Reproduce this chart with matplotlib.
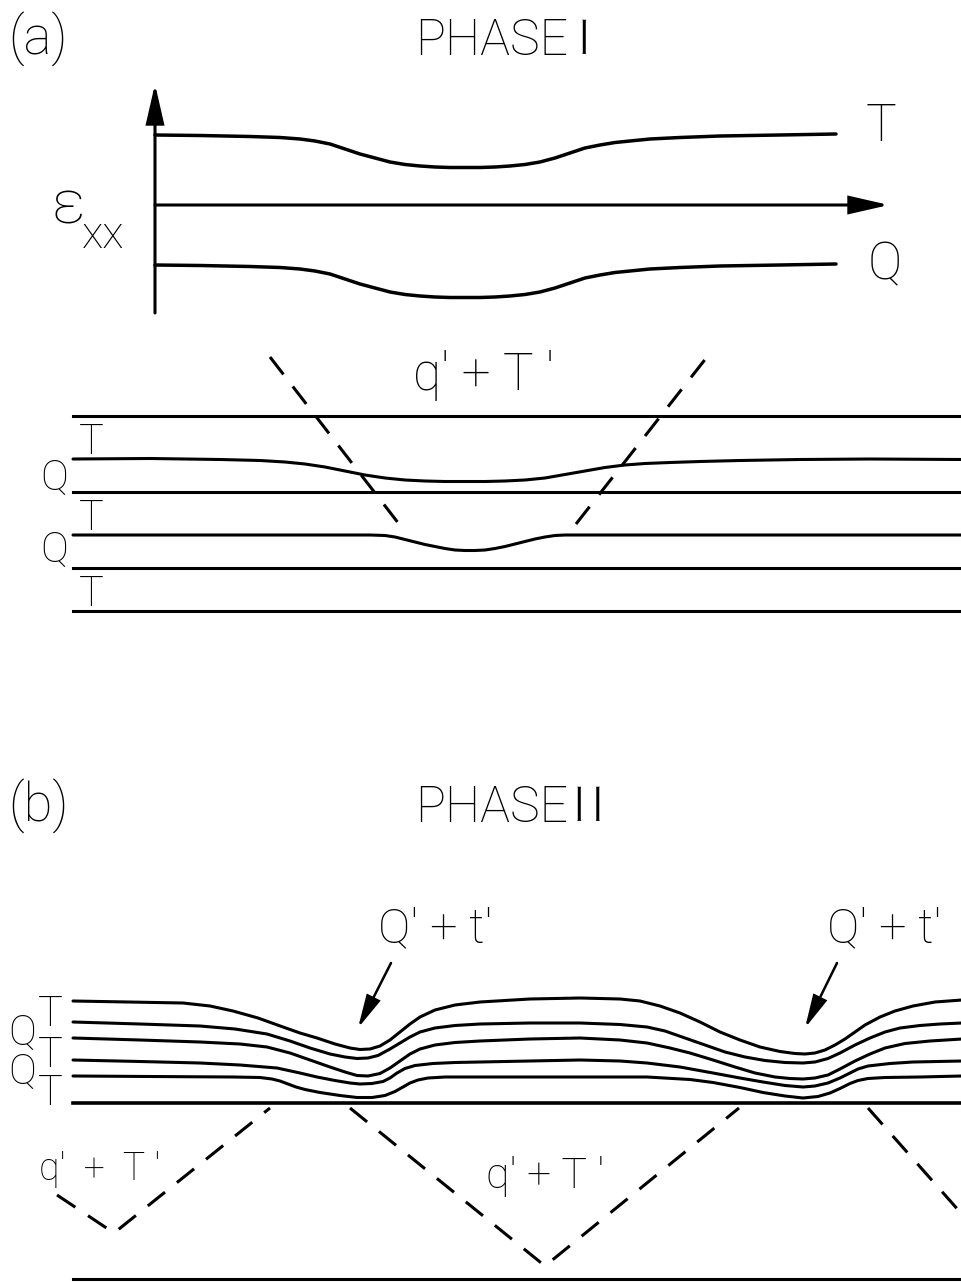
import matplotlib
matplotlib.use("Agg")
import matplotlib.pyplot as plt
from matplotlib.patches import FancyArrowPatch
from matplotlib import patheffects

# ---------------- data (pixel coordinates) ----------------
# Panel (a) top: strain curves
a_T_x = [155, 200, 250, 280, 300, 315, 330, 345, 360, 375, 390, 405, 420, 435, 450, 465, 480, 495, 510,
         525, 540, 555, 570, 585, 600, 615, 630, 650, 680, 720, 780, 836]
a_T_y = [135, 135.5, 136.5, 137.5, 139, 141, 144, 149, 154, 158, 162, 164.5, 166, 167, 167.5, 167.5, 167.5,
         167, 166, 164.5, 162, 158, 153, 148, 145, 142.5, 141, 139, 137.5, 136, 135, 134]
a_Q_x = [155, 200, 250, 280, 300, 315, 330, 345, 360, 375, 390, 405, 420, 435, 450, 465, 480, 495, 510,
         525, 540, 555, 570, 585, 600, 615, 630, 650, 680, 720, 780, 836]
a_Q_y = [265, 265.5, 266.5, 267.5, 269, 271, 274, 279, 284, 288, 292, 294.5, 296, 297, 297.5, 297.5, 297.5,
         297, 296, 294.5, 292, 288, 283, 278, 275, 272.5, 271, 269, 267.5, 266, 265, 264]

# Panel (a) bottom: layer interfaces
a_flat_y = [416, 492, 568, 611]
a_c1_x = [73, 150, 220, 260, 285, 305, 325, 345, 365, 385, 405, 425, 445, 465, 485, 505, 525, 545, 565,
          585, 605, 625, 645, 670, 700, 740, 800, 870, 962]
a_c1_y = [459, 458.5, 459.5, 460.5, 462, 464, 467, 471, 475, 478, 480, 481, 481.5, 481.5, 481.5, 481, 480,
          478, 474.5, 471, 467.5, 465, 463.5, 462.5, 461.5, 460.5, 459.5, 459, 459.5]
a_c2_x = [73, 333, 370, 385, 395, 405, 415, 425, 435, 445, 455, 465, 475, 485, 495, 505, 515, 525, 535,
          545, 555, 565, 580, 713, 962]
a_c2_y = [535, 535, 535, 535.5, 537, 539.5, 542, 544.5, 546.5, 548.5, 550, 550.5, 550.5, 550, 548.5, 546.5,
          544, 541.5, 539, 537, 535.5, 535, 535, 535, 535]
a_dash_left_x = [270, 399]
a_dash_left_y = [357, 524]
a_dash_right_x = [576, 707]
a_dash_right_y = [524, 357]
a_T_labels_y = [454, 530, 606]
a_Q_labels_y = [490, 562]

# Panel (b): layer interfaces
b_c1_x = [73, 183, 210, 233, 258, 283, 300, 317, 335, 350, 360, 370, 380, 390, 400, 410, 420, 435, 455, 480,
          530, 580, 620, 640, 660, 680, 700, 720, 740, 760, 780, 795, 805, 815, 825, 835, 845, 855, 865, 880,
          895, 913, 935, 962]
b_c1_y = [1001, 1003, 1006, 1011, 1018, 1027, 1033, 1038, 1044, 1048, 1049.5, 1049, 1046, 1040, 1032, 1024,
          1017, 1010, 1005, 1002, 999, 998, 999, 1001, 1006, 1013, 1022, 1032, 1040, 1047, 1051.5, 1053.5,
          1054, 1053, 1050, 1045, 1039, 1032, 1025, 1017, 1011, 1006, 1002, 1000]
b_c2_x = [73, 140, 200, 235, 267, 290, 310, 330, 345, 357, 368, 378, 390, 400, 410, 420, 435, 455, 480, 530,
          580, 620, 647, 665, 685, 705, 725, 745, 765, 785, 803, 815, 828, 840, 855, 870, 885, 900, 920, 940, 962]
b_c2_y = [1022, 1024, 1026, 1029, 1034, 1041, 1048, 1054, 1057, 1058.5, 1058, 1055.5, 1049, 1043, 1037, 1032,
          1028, 1025.5, 1024, 1023, 1023, 1024.5, 1027, 1031, 1038, 1045, 1052, 1057, 1060.5, 1062.5, 1063,
          1062, 1058.5, 1053, 1045, 1038, 1032, 1028, 1025.5, 1024, 1023]
b_c3_x = [73, 140, 200, 240, 267, 290, 310, 330, 345, 357, 368, 380, 390, 400, 410, 420, 435, 455, 480, 530,
          580, 620, 647, 670, 690, 713, 735, 755, 775, 790, 803, 815, 828, 840, 855, 870, 885, 905, 930, 962]
b_c3_y = [1038, 1040, 1042, 1044, 1047, 1053, 1060, 1067, 1072, 1075.5, 1076, 1073.5, 1068, 1061, 1054, 1049,
          1045, 1042.5, 1041, 1039, 1038, 1040, 1043, 1048, 1053, 1060, 1067, 1073, 1077, 1078.5, 1079, 1078,
          1075, 1069, 1061, 1054, 1048, 1043.5, 1041, 1039]
b_c4_x = [73, 140, 200, 240, 277, 300, 317, 335, 350, 360, 372, 383, 390, 397, 405, 415, 433, 455, 480, 530,
          580, 620, 647, 680, 713, 740, 763, 785, 803, 815, 828, 840, 850, 858, 868, 890, 913, 962]
b_c4_y = [1060, 1061.5, 1063, 1065, 1068, 1073, 1077, 1080.5, 1083, 1084, 1083.5, 1081.5, 1078, 1073, 1068.5,
          1065.5, 1063.5, 1062.5, 1062, 1061, 1060, 1061, 1063, 1067, 1073, 1078, 1082, 1085.5, 1087, 1086,
          1083, 1078, 1073, 1069, 1066, 1063.5, 1062, 1061]
b_c5_x = [73, 150, 233, 260, 272, 280, 288, 296, 305, 320, 340, 357, 372, 385, 395, 403, 410, 418, 428, 445,
          480, 560, 647, 690, 713, 740, 763, 785, 803, 818, 830, 840, 850, 858, 868, 885, 920, 962]
b_c5_y = [1076, 1076.5, 1077, 1077.5, 1079, 1081, 1084, 1087, 1089.5, 1092.5, 1095.5, 1097.5, 1097.5, 1095.5,
          1091.5, 1087, 1083, 1080, 1078, 1077, 1077, 1077, 1077, 1079.5, 1082.5, 1087.5, 1092.5, 1096, 1098,
          1096.5, 1093, 1088.5, 1083.5, 1080.5, 1078.5, 1077.5, 1077, 1076]
b_base_y = 1103
b_bottom_y = 1279
b_dash1_x = [57, 114, 270]
b_dash1_y = [1195, 1233, 1108]
b_dash2_x = [350, 545, 739]
b_dash2_y = [1108, 1266, 1108]
b_dash3_x = [868, 960]
b_dash3_y = [1108, 1212]
b_T_labels_y = [1026, 1067, 1105]
b_Q_labels_y = [1045, 1084]

# ---------------- drawing ----------------
FONT = ['Roboto', 'DejaVu Sans']
NUMERAL_FONT = ['Liberation Serif', 'DejaVu Serif']
LW = 2.2

fig = plt.figure(figsize=(9.62, 12.82), dpi=100)
ax = fig.add_axes([0, 0, 1, 1])
ax.set_xlim(0, 962)
ax.set_ylim(1282, 0)
ax.axis('off')


def txt(x, y, s, size, ha='left', weight='light', family=FONT, **kw):
    ax.text(x, y, s, fontsize=size, ha=ha, va='baseline', family=family,
            fontweight=weight, color='black', **kw)


def numeral(x, y, s):
    # thin serif roman numeral: erode the glyph outline slightly with a white stroke
    txt(x, y, s, 40, family=NUMERAL_FONT, weight='normal',
        path_effects=[patheffects.Stroke(linewidth=1.6, foreground='white')])


def arrow(p0, p1, lw, hl, hw):
    ax.add_patch(FancyArrowPatch(p0, p1, arrowstyle=f'-|>,head_length={hl},head_width={hw}',
                                 mutation_scale=10, lw=lw, color='black',
                                 shrinkA=0, shrinkB=0, joinstyle='miter'))


def curve(xs, ys, lw=LW, **kw):
    ax.plot(xs, ys, color='black', lw=lw, solid_joinstyle='round',
            solid_capstyle='round', **kw)


dash = (0, (7.2, 5.0))

# ---- panel (a) ----
txt(8, 55, '(a)', 38)
txt(415, 55, 'PHASE', 36)
numeral(575, 55, 'I')

arrow((155, 313), (155, 84), 2.2, 2.4, 0.55)
arrow((155, 205), (889, 205), 2.2, 2.4, 0.55)
curve(a_T_x, a_T_y, lw=LW + 0.3)
curve(a_Q_x, a_Q_y, lw=LW + 0.3)
txt(881, 141, 'T', 37, ha='center')
txt(885, 279, 'Q', 37, ha='center')
txt(52, 223, 'ε', 44)
txt(82, 248, 'xx', 32)

for yy in a_flat_y:
    ax.plot([73, 962], [yy, yy], color='black', lw=LW)
curve(a_c1_x, a_c1_y)
curve(a_c2_x, a_c2_y)
ax.plot(a_dash_left_x, a_dash_left_y, color='black', lw=LW, linestyle=dash)
ax.plot(a_dash_right_x, a_dash_right_y, color='black', lw=LW, linestyle=dash)
txt(484, 390, "q' + T '", 37, ha='center')
for yy in a_T_labels_y:
    txt(91, yy, 'T', 30, ha='center')
for yy in a_Q_labels_y:
    txt(54, yy, 'Q', 30, ha='center')

# ---- panel (b) ----
txt(8, 822, '(b)', 38)
txt(415, 822, 'PHASE', 36)
numeral(570, 822, 'II')

for xs, ys in [(b_c1_x, b_c1_y), (b_c2_x, b_c2_y), (b_c3_x, b_c3_y),
               (b_c4_x, b_c4_y), (b_c5_x, b_c5_y)]:
    curve(xs, ys)
ax.plot([73, 962], [b_base_y, b_base_y], color='black', lw=LW + 0.4)
ax.plot([73, 962], [b_bottom_y, b_bottom_y], color='black', lw=LW)
for xs, ys in [(b_dash1_x, b_dash1_y), (b_dash2_x, b_dash2_y), (b_dash3_x, b_dash3_y)]:
    ax.plot(xs, ys, color='black', lw=LW, linestyle=dash)

txt(435, 942, "Q' + t'", 35, ha='center')
txt(884, 942, "Q' + t'", 35, ha='center')
arrow((391, 963), (358, 1028), 1.8, 2.0, 0.45)
arrow((837, 963), (805, 1028), 1.8, 2.0, 0.45)

for yy in b_T_labels_y:
    txt(50, yy, 'T', 30, ha='center')
for yy in b_Q_labels_y:
    txt(22, yy, 'Q', 30, ha='center')

txt(100, 1180, "q'  +  T '", 27, ha='center')
txt(545, 1188, "q' + T '", 31, ha='center')

fig.savefig('out.png', dpi=100)
